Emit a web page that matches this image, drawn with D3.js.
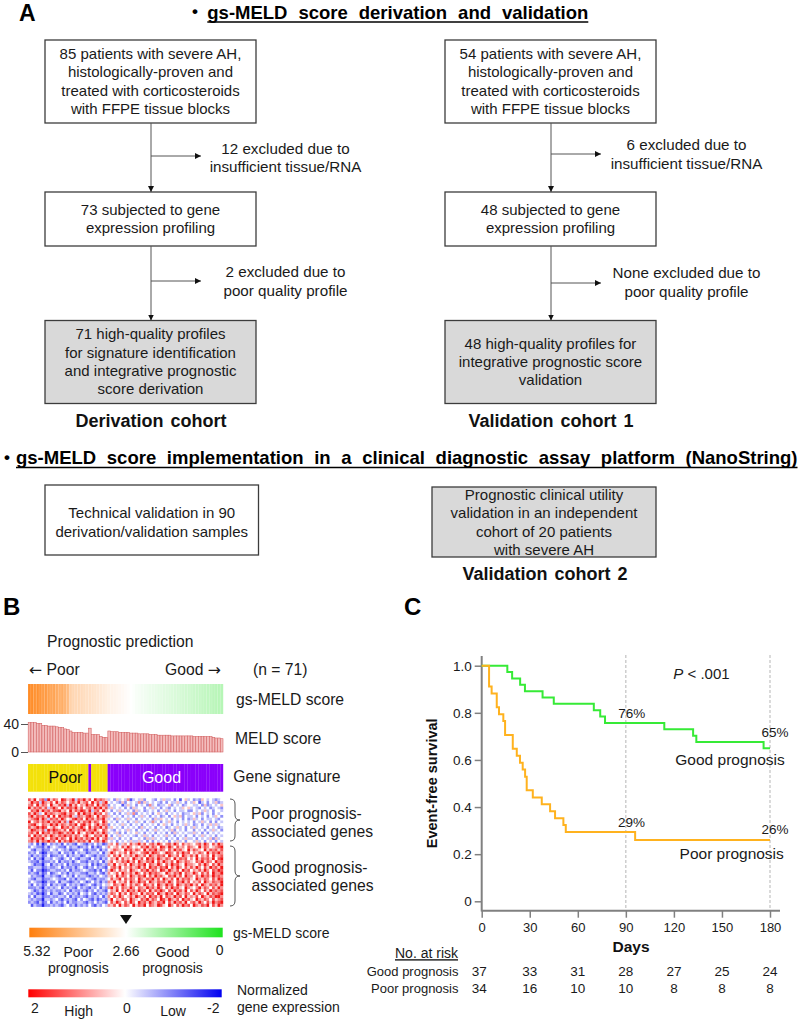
<!DOCTYPE html>
<html><head><meta charset="utf-8">
<script src="https://cdn.jsdelivr.net/npm/d3@7"></script>
<style>
body{margin:0;background:#fff;}
svg{display:block;font-family:"Liberation Sans",Arial,Helvetica,sans-serif;}
</style></head><body>
<svg id="chart" width="800" height="1019"></svg>
<script>
// ---------------- DATA ----------------
const title1 = "gs-MELD score derivation and validation";
const title2 = "gs-MELD score implementation in a clinical diagnostic assay platform (NanoString)";
const derivationBoxes = [
  ["85 patients with severe AH,", "histologically-proven and", "treated with corticosteroids", "with FFPE tissue blocks"],
  ["73 subjected to gene", "expression profiling"],
  ["71 high-quality profiles", "for signature identification", "and integrative prognostic", "score derivation"]
];
const validationBoxes = [
  ["54 patients with severe AH,", "histologically-proven and", "treated with corticosteroids", "with FFPE tissue blocks"],
  ["48 subjected to gene", "expression profiling"],
  ["48 high-quality profiles for", "integrative prognostic score", "validation"]
];
const derivationExcluded = [["12 excluded due to", "insufficient tissue/RNA"], ["2 excluded due to", "poor quality profile"]];
const validationExcluded = [["6 excluded due to", "insufficient tissue/RNA"], ["None excluded due to", "poor quality profile"]];
const cohortNames = ["Derivation cohort", "Validation cohort 1", "Validation cohort 2"];
const nanoBoxes = [
  ["Technical validation in 90", "derivation/validation samples"],
  ["Prognostic clinical utility", "validation in an independent", "cohort of 20 patients", "with severe AH"]
];

// Panel B: 71 patients ordered by gs-MELD score
const gsMeld = [5.05,5.0,4.9,4.95,4.8,4.7,4.75,4.6,4.5,4.55,4.4,4.3,4.35,4.2,4.05,
  3.6,3.5,3.45,3.45,3.4,3.35,3.3,3.3,3.25,3.2,3.15,3.1,3.05,3.0,
  2.95,2.9,2.88,2.85,2.82,2.78,2.74,2.7,2.66,2.62,2.58,2.55,2.52,2.5,2.47,2.44,2.42,2.4,2.37,2.35,2.32,
  2.3,2.28,2.25,2.22,2.2,2.17,2.15,2.12,2.1,2.08,2.05,2.02,2.0,1.97,1.95,1.92,1.9,1.87,1.85,1.82,1.8];
const meldScore = [42,42,42,41,41,38,38,37,37,37,36,35,35,33,32,30,28,28,28,28,27,27,34,25,25,25,22,21,21,
  30,29,29,29,28,28,28,28,27,27,27,26,26,26,26,25,25,25,24,24,24,24,24,23,23,23,23,
  23,23,23,23,22,22,22,22,22,22,22,21,20,20,19];
const signature = "PPPPPPPPPPPPPPPPPPPPPPGPPPPPPGGGGGGGGGGGGGGGGGGGGGGGGGGGGGGGGGGGGGGGGGG".split("");
const meldTicks = [0, 40];
// Heatmap (levels 0..8 => -2..+2), poor-prognosis genes then good-prognosis genes
const poorGeneRows = [
"7584672857 6487568376 857486765 3425343613 4352443243 5334241453 4232543432 34",
"5867386574 8576467585 674857368 4343252434 3625343432 4243353424 3541342435 23",
"6748576485 5768385746 586748576 2434413534 2434263423 3452434234 4334252343 45",
"8576757368 6485776857 467586857 3534342425 3442435342 4324343545 3432434234 32",
"4768586757 7856485768 758367485 4243534342 5342343424 3534243342 2434353424 43",
"7586348676 5678576485 867586746 3424243536 2434342453 4243434233 4535243424 34",
"6857675848 4867685376 578648576 5343424342 4353424342 3424535243 3424342435 42",
"5678586376 7586457867 486757685 3425343534 2434342535 4342434242 3534243343 24",
"8467576857 6857386475 768576486 4342434243 5342436342 4353424343 4243534242 43",
"6785476586 8576576847 857468576 2434353424 3424343424 5342434353 4234243535 34",
"7568687457 5486757568 648576857 3543424343 4253434243 4234353424 3534342434 23",
"5876573868 7657486576 857685476 4324343534 2434243534 3435243424 4243424353 42",
"6758486757 6875768485 476857586 3435242434 5342434243 4242534343 3534242434 34",
"7486757586 5768675764 685476758 4243534343 2435342434 3534243424 4243534342 43",
"5867685476 8576485867 576858467 3534243424 4342535343 4243424353 3424343525 34",
"6758576867 4857686576 758467586 4342434353 3534242434 3424353424 4353424342 43"
];
const goodGeneRows = [
"3241302423 2314232143 213242312 5647356475 6857467586 4675864756 5467586475 86",
"2432213134 3221423312 324131243 6456475864 5476857648 7586475647 6548576456 78",
"4213312243 2432312234 213224132 4576548675 7648576857 6475867548 5765485767 57",
"2324201323 3142231423 312332413 5864657486 5467858764 5876475867 4657648576 86",
"3132312412 2324132331 243213223 6475846575 8657486576 7486574865 7584657485 67",
"2413203324 3213424213 321423132 4658475648 6574867586 5764857674 6485767584 78",
"3221312232 4132231342 213232413 5746576857 4865768475 8657486576 5476857648 67",
"4312203413 2324132223 324131232 6584657486 5768476586 4758675486 6547586475 86",
"2233312322 3413223134 213242321 4675846575 6857486757 6847586475 7586475867 58",
"3142201233 2232413223 432213142 5864756486 5476857648 7586574867 4657586476 87",
"2321312412 3423132332 213324213 6457486575 8647586765 4865768476 5864757486 68",
"4232203323 2134231423 321232432 5648576486 5768475867 5476857486 6475867586 76",
"3213312234 3221423132 243213223 4756847576 4865768574 8657485767 5486576475 87",
"2432201322 4133212324 312423132 6584657486 5867486576 7586476857 4657486576 68",
"3142312413 2321423231 234213243 5476586475 7648657486 5867486576 8574865767 58",
"2223203232 3413232142 321324132 6857476586 4765867586 4758675486 5468576475 86",
"4312312323 2232413223 213242321 4658475867 5867485768 6475867584 7586475867 67",
"3231202413 3124232314 324213232 5764857486 6485767486 5867486576 4857648576 78",
"2413312232 2332413223 213232413 6475864575 8657486758 4765867485 6574865768 86",
"3232203323 4213232142 432131232 5846576486 5476857648 7586574867 5486576475 67",
"2321312413 2324132233 213242321 4758647586 4867586576 8475867584 6758647586 78",
"4132202232 3213423132 324213243 6574857648 5768476587 5486475867 4865768475 86"
];

// Panel C: Kaplan-Meier steps
const goodTimes = [0, 16, 19, 24, 27, 38, 45, 70, 74, 77, 114, 132, 134, 176, 180];
const goodSurv  = [1.0, 0.973, 0.946, 0.919, 0.892, 0.865, 0.838, 0.811, 0.784, 0.757, 0.730, 0.703, 0.676, 0.65, 0.65];
const poorTimes = [0, 4.6, 6.2, 9.4, 10.8, 13.5, 14.6, 19.4, 21.9, 23.9, 25.6, 27.1, 28.1, 31.9, 37.5, 42.7, 45.8, 51, 52.5, 95.8, 180];
const poorSurv  = [1.0, 0.912, 0.882, 0.824, 0.794, 0.765, 0.706, 0.647, 0.618, 0.588, 0.559, 0.529, 0.471, 0.441, 0.412, 0.382, 0.353, 0.324, 0.294, 0.26, 0.26];
const dayTicks = [0, 30, 60, 90, 120, 150, 180];
const survTicks = [0, 0.2, 0.4, 0.6, 0.8, 1.0];
const goodAtRisk = [37, 33, 31, 28, 27, 25, 24];
const poorAtRisk = [34, 16, 10, 10, 8, 8, 8];
const markerDays = [90, 180];
const goodPctLabels = ["76%", "65%"];
const poorPctLabels = ["29%", "26%"];

// ---------------- DRAW ----------------
const svg = d3.select("#chart");
const defs = svg.append("defs");
defs.append("marker").attr("id", "ah").attr("viewBox", "0 0 10 10")
  .attr("refX", 10).attr("refY", 5).attr("markerWidth", 6).attr("markerHeight", 6)
  .attr("orient", "auto").append("path").attr("d", "M0,0L10,5L0,10z").attr("fill", "#111");

function txt(g, x, yc, s, size, opts = {}) {
  const t = g.append("text").attr("x", x).attr("y", yc + 0.35 * size)
    .attr("font-size", size).attr("fill", opts.fill || "#1a1a1a")
    .attr("text-anchor", opts.anchor || "middle")
    .attr("font-weight", opts.weight || "normal")
    .text(s);
  if (opts.ws) t.style("word-spacing", opts.ws + "px");
  if (opts.underline) t.style("text-decoration", "underline");
  return t;
}
// justified bold title with a continuous underline
function justifiedTitle(g, x0, x1, yc, str, size) {
  const words = str.split(" ");
  const nodes = words.map(w => g.append("text").attr("font-size", size).attr("font-weight", "bold")
    .attr("fill", "#000").attr("y", yc + 0.35 * size).text(w));
  const widths = nodes.map(t => t.node().getComputedTextLength());
  const gap = (x1 - x0 - d3.sum(widths)) / (words.length - 1);
  let x = x0;
  nodes.forEach((t, i) => { t.attr("x", x); x += widths[i] + gap; });
  g.append("line").attr("x1", x0).attr("x2", x1)
    .attr("y1", yc + 0.35 * size + 3).attr("y2", yc + 0.35 * size + 3)
    .attr("stroke", "#000").attr("stroke-width", 1.6);
}

// Panel A
const gA = svg.append("g");
txt(gA, 19, 12.5, "A", 23, {anchor: "start", weight: "bold", fill: "#000"});
txt(gA, 192, 11.5, "•", 17, {anchor: "start", weight: "bold", fill: "#000"});
justifiedTitle(gA, 207.3, 588.3, 12.5, title1, 18.5);
txt(gA, 4, 457.5, "•", 17, {anchor: "start", weight: "bold", fill: "#000"});
justifiedTitle(gA, 16, 797.5, 458, title2, 18.5);

function drawBox(x, y, w, h, lines, fill, off = 0) {
  gA.append("rect").attr("x", x).attr("y", y).attr("width", w).attr("height", h)
    .attr("fill", fill).attr("stroke", "#3c3c3c").attr("stroke-width", 1.3);
  const step = 18.3, cy = y + h / 2 - 0.4 + off;
  lines.forEach((l, i) => txt(gA, x + w / 2, cy + (i - (lines.length - 1) / 2) * step, l, 15));
}
function arrow(x1, y1, x2, y2) {
  gA.append("line").attr("x1", x1).attr("y1", y1).attr("x2", x2).attr("y2", y2)
    .attr("stroke", "#555").attr("stroke-width", 1).attr("marker-end", "url(#ah)");
}
const cols = [
  {x: 45, boxes: derivationBoxes, excl: derivationExcluded, tx: 285.5, hy: [156, 281], ty: [[148.3, 166.7], [271.7, 290.5]], name: cohortNames[0]},
  {x: 445, boxes: validationBoxes, excl: validationExcluded, tx: 686.5, hy: [154, 283], ty: [[145, 164], [272.7, 291.5]], name: cohortNames[1]}
];
const boxY = [[40, 83], [192, 54], [320.5, 83]];
cols.forEach(c => {
  const w = 211, cx = c.x + 106;
  c.boxes.forEach((b, i) => drawBox(c.x, boxY[i][0], w, boxY[i][1], b, i === 2 ? "#d9d9d9" : "#fff"));
  arrow(cx, 123, cx, 192);
  arrow(cx, 246, cx, 320.5);
  c.hy.forEach(hy => arrow(cx, hy, cx + 50, hy));
  c.excl.forEach((e, i) => e.forEach((l, j) => txt(gA, c.tx, c.ty[i][j], l, 15.2)));
  txt(gA, cx, 420.5, c.name, 18, {weight: "bold", fill: "#111", ws: 2});
});
// NanoString boxes
drawBox(45, 485, 213.5, 70, nanoBoxes[0], "#fff", 2.5);
drawBox(432, 487, 224, 70, nanoBoxes[1], "#d9d9d9", 0.5);
txt(gA, 545, 574, cohortNames[2], 18, {weight: "bold", fill: "#111", ws: 2});

// Panel B
const gB = svg.append("g");
txt(gB, 3, 606.5, "B", 24, {anchor: "start", weight: "bold", fill: "#000"});
const fsB = 15.7;
txt(gB, 47, 641.7, "Prognostic prediction", fsB, {anchor: "start"});
const arL = gB.append("text").attr("x", 29).attr("y", 670 + 0.35 * fsB).attr("font-size", fsB).attr("fill", "#1a1a1a");
arL.append("tspan").attr("font-family", "DejaVu Sans").text("\u2190");
arL.append("tspan").text(" Poor");
const arR = gB.append("text").attr("x", 221).attr("y", 670 + 0.35 * fsB).attr("font-size", fsB).attr("fill", "#1a1a1a").attr("text-anchor", "end");
arR.append("tspan").text("Good ");
arR.append("tspan").attr("font-family", "DejaVu Sans").text("\u2192");
txt(gB, 253, 670, "(n = 71)", fsB, {anchor: "start"});

const n = gsMeld.length;
const xB = d3.scaleBand().domain(d3.range(n)).range([28, 223]);
const gsColor = d3.scaleLinear().domain([5.32, 2.66, 0]).range(["#ff7f0e", "#ffffff", "#1ee21e"]);
gB.append("g").selectAll("rect").data(gsMeld).join("rect")
  .attr("x", (d, i) => xB(i)).attr("width", xB.bandwidth() + 0.2)
  .attr("y", 684).attr("height", 30).attr("fill", d => gsColor(d));
gB.append("g").selectAll("line").data(gsMeld).join("line")
  .attr("x1", (d, i) => xB(i)).attr("x2", (d, i) => xB(i)).attr("y1", 684).attr("y2", 714)
  .attr("stroke", "#fff").attr("stroke-opacity", 0.25).attr("stroke-width", 0.5);
txt(gB, 236, 700, "gs-MELD score", fsB, {anchor: "start"});

const yM = d3.scaleLinear().domain([0, 40]).range([752, 724]);
gB.append("g").selectAll("rect").data(meldScore).join("rect")
  .attr("x", (d, i) => xB(i) + 0.2).attr("width", xB.bandwidth() - 0.2)
  .attr("y", d => yM(d)).attr("height", d => yM(0) - yM(d))
  .attr("fill", "#f3bcbc").attr("stroke", "#d56565").attr("stroke-width", 0.6);
const mAx = gB.append("g").attr("transform", "translate(28,0)")
  .call(d3.axisLeft(yM).tickValues(meldTicks).tickSize(7).tickPadding(2));
mAx.select(".domain").remove();
mAx.selectAll(".tick line").attr("stroke", "#555");
mAx.selectAll(".tick text").attr("font-size", 14).attr("fill", "#1a1a1a").attr("font-family", null);
txt(gB, 235, 738.3, "MELD score", fsB, {anchor: "start"});

const sigColor = {P: "#f3e10a", G: "#8a00fb"};
gB.append("g").selectAll("rect").data(signature).join("rect")
  .attr("x", (d, i) => xB(i)).attr("width", xB.bandwidth() + 0.2)
  .attr("y", 764).attr("height", 27.7).attr("fill", d => sigColor[d]);
txt(gB, 65.5, 777.5, "Poor", 16, {fill: "#111"});
txt(gB, 161.5, 777.5, "Good", 16, {fill: "#fff"});
txt(gB, 233.3, 776.7, "Gene signature", fsB, {anchor: "start"});

const exprColor = d3.scaleLinear().domain([-2, 0, 2]).range(["#2020f0", "#ffffff", "#f01818"]);
function drawHeat(rows, y0, y1) {
  const yR = d3.scaleBand().domain(d3.range(rows.length)).range([y0, y1]);
  rows.forEach((r, ri) => {
    const vals = r.replace(/ /g, "").split("").map(ch => (+ch - 4) / 2);
    gB.append("g").selectAll("rect").data(vals).join("rect")
      .attr("x", (d, i) => xB(i)).attr("width", xB.bandwidth() + 0.2)
      .attr("y", yR(ri)).attr("height", yR.bandwidth() + 0.2)
      .attr("fill", d => exprColor(d));
  });
}
drawHeat(poorGeneRows, 798.3, 842.7);
drawHeat(goodGeneRows, 842.7, 906.7);

function brace(y0, y1) {
  const m = (y0 + y1) / 2;
  gB.append("path").attr("d",
    `M230,${y0} Q235,${y0} 235,${y0 + 5} L235,${m - 5} Q235,${m} 240,${m} Q235,${m} 235,${m + 5} L235,${y1 - 5} Q235,${y1} 230,${y1}`)
    .attr("fill", "none").attr("stroke", "#555").attr("stroke-width", 1);
}
brace(799, 841);
brace(846, 906);
txt(gB, 251, 813.3, "Poor prognosis-", fsB, {anchor: "start"});
txt(gB, 251, 831.7, "associated genes", fsB, {anchor: "start"});
txt(gB, 251.5, 867.3, "Good prognosis-", fsB, {anchor: "start"});
txt(gB, 251.5, 886, "associated genes", fsB, {anchor: "start"});

// gs-MELD legend
const xLeg = d3.scaleLinear().domain([5.32, 0]).range([29.3, 222.7]);
const gGs = defs.append("linearGradient").attr("id", "gsGrad");
[5.32, 2.66, 0].forEach(v => gGs.append("stop")
  .attr("offset", (xLeg(v) - 29.3) / (222.7 - 29.3)).attr("stop-color", gsColor(v)));
const tx = xLeg(2.66);
gB.append("path").attr("d", `M${tx - 6},915 L${tx + 6},915 L${tx},924 Z`).attr("fill", "#111");
gB.append("rect").attr("x", 29.3).attr("y", 927.7).attr("width", 222.7 - 29.3).attr("height", 9.6).attr("fill", "url(#gsGrad)");
txt(gB, 233, 933.3, "gs-MELD score", 14, {anchor: "start"});
const legFs = 14;
txt(gB, xLeg(5.32) + 7.5, 950.7, "5.32", legFs);
txt(gB, 78.3, 952, "Poor", legFs);
txt(gB, 78.3, 968.3, "prognosis", legFs);
txt(gB, xLeg(2.66), 950.7, "2.66", legFs);
txt(gB, 172.5, 952, "Good", legFs);
txt(gB, 172.5, 968.3, "prognosis", legFs);
txt(gB, xLeg(0) - 3, 950, "0", legFs);

// expression legend
const xE = d3.scaleLinear().domain([2, -2]).range([28.3, 221.7]);
const gEx = defs.append("linearGradient").attr("id", "exGrad");
[2, 0, -2].forEach((v, i) => gEx.append("stop").attr("offset", i / 2)
  .attr("stop-color", ["#ff0000", "#ffffff", "#0000f0"][i]));
gB.append("rect").attr("x", 28.3).attr("y", 989.3).attr("width", 221.7 - 28.3).attr("height", 8).attr("fill", "url(#exGrad)");
txt(gB, 237, 990, "Normalized", legFs, {anchor: "start"});
txt(gB, 237, 1006.7, "gene expression", legFs, {anchor: "start"});
txt(gB, xE(2) + 6.5, 1008.3, "2", legFs);
txt(gB, 78.7, 1010.7, "High", legFs);
txt(gB, xE(0) + 2, 1008.3, "0", legFs);
txt(gB, 173, 1010.7, "Low", legFs);
txt(gB, xE(-2) - 8.5, 1008.3, "-2", legFs);

// Panel C
const gC = svg.append("g");
txt(gC, 404, 606.5, "C", 24, {anchor: "start", weight: "bold", fill: "#000"});
const xC = d3.scaleLinear().domain([0, 180]).range([481.7, 770]);
const yC = d3.scaleLinear().domain([0, 1]).range([901.3, 665.7]);
const axisY = 910.7;

gC.append("g").selectAll("line").data(markerDays).join("line")
  .attr("x1", d => xC(d)).attr("x2", d => xC(d)).attr("y1", 655).attr("y2", axisY)
  .attr("stroke", "#b5b5b5").attr("stroke-width", 1).attr("stroke-dasharray", "3,2");

const yAx = gC.append("g").attr("transform", `translate(${xC(0)},0)`)
  .call(d3.axisLeft(yC).tickValues(survTicks).tickSize(7).tickPadding(3)
    .tickFormat(d => d === 0 ? "0" : d3.format(".1f")(d)));
const xAx = gC.append("g").attr("transform", `translate(0,${axisY})`)
  .call(d3.axisBottom(xC).tickValues(dayTicks).tickSize(7).tickPadding(5));
[yAx, xAx].forEach(a => {
  a.select(".domain").remove();
  a.selectAll(".tick line").attr("stroke", "#808080").attr("stroke-width", 1.5);
  a.selectAll(".tick text").attr("fill", "#1a1a1a").attr("font-family", null);
});
yAx.selectAll(".tick text").attr("font-size", 13.5);
xAx.selectAll(".tick text").attr("font-size", 13);
gC.append("line").attr("x1", xC(0)).attr("x2", xC(0)).attr("y1", 656).attr("y2", axisY + 0.8)
  .attr("stroke", "#808080").attr("stroke-width", 2);
gC.append("line").attr("x1", xC(0)).attr("x2", 780).attr("y1", axisY).attr("y2", axisY)
  .attr("stroke", "#808080").attr("stroke-width", 2);

const km = d3.line().x(d => xC(d[0])).y(d => yC(d[1])).curve(d3.curveStepAfter);
gC.append("path").datum(goodTimes.map((t, i) => [t, goodSurv[i]]))
  .attr("d", km).attr("fill", "none").attr("stroke", "#36ea36").attr("stroke-width", 2);
gC.append("path").datum(poorTimes.map((t, i) => [t, poorSurv[i]]))
  .attr("d", km).attr("fill", "none").attr("stroke", "#ffb21e").attr("stroke-width", 2);

const pT = gC.append("text").attr("x", 673.3).attr("y", 673.3 + 0.35 * 15).attr("font-size", 15).attr("fill", "#1a1a1a");
pT.append("tspan").attr("font-style", "italic").text("P");
pT.append("tspan").text(" < .001");

txt(gC, 631.7, 713.3, goodPctLabels[0], 13.5);
txt(gC, 775, 732.7, goodPctLabels[1], 13.5);
txt(gC, 631.5, 822, poorPctLabels[0], 13.5);
txt(gC, 775, 829, poorPctLabels[1], 13.5);
txt(gC, 730, 760, "Good prognosis", 15.5);
txt(gC, 731.7, 853.3, "Poor prognosis", 15.5);

gC.append("text").attr("transform", "translate(436.5,783.3) rotate(-90)")
  .attr("text-anchor", "middle").attr("font-size", 14.5).attr("font-weight", "bold")
  .attr("fill", "#111").text("Event-free survival");
txt(gC, 631, 946.7, "Days", 15.5, {weight: "bold", fill: "#111"});

txt(gC, 395, 953.3, "No. at risk", 14, {anchor: "start", underline: true});
txt(gC, 458.5, 971.7, "Good prognosis", 13, {anchor: "end"});
txt(gC, 458.5, 988.3, "Poor prognosis", 13, {anchor: "end"});
gC.append("g").selectAll("text").data(goodAtRisk).join("text")
  .attr("x", (d, i) => xC(dayTicks[i]) - (i === 0 ? 2.5 : 0)).attr("y", 971.7 + 0.35 * 13.5)
  .attr("text-anchor", "middle").attr("font-size", 13.5).attr("fill", "#1a1a1a").text(d => d);
gC.append("g").selectAll("text").data(poorAtRisk).join("text")
  .attr("x", (d, i) => xC(dayTicks[i]) - (i === 0 ? 2.5 : 0)).attr("y", 988.3 + 0.35 * 13.5)
  .attr("text-anchor", "middle").attr("font-size", 13.5).attr("fill", "#1a1a1a").text(d => d);
</script>
</body></html>
